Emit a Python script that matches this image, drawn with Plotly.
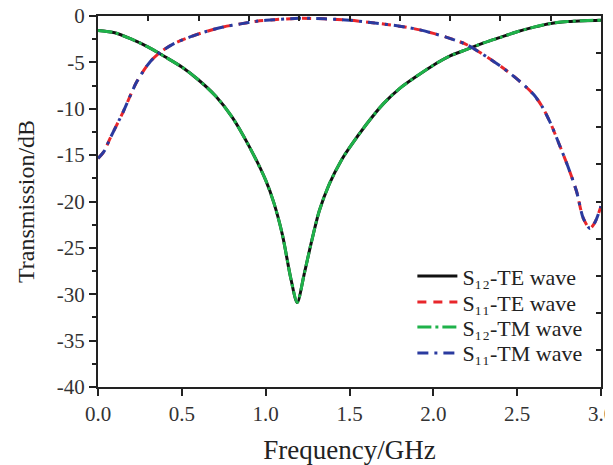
import plotly.graph_objects as go

# S12 (transmission) curve: TE and TM coincide
freq_s12 = [0.0, 0.1, 0.2, 0.3, 0.4, 0.5, 0.6, 0.7, 0.8, 0.9, 1.0, 1.05, 1.1, 1.15,
            1.188, 1.23, 1.27, 1.32, 1.38, 1.45, 1.5, 1.6, 1.7, 1.8, 1.9, 2.0, 2.1, 2.2,
            2.3, 2.4, 2.5, 2.6, 2.7, 2.8, 2.9, 3.0]
s12_db = [-1.55, -1.8, -2.5, -3.35, -4.4, -5.5, -6.9, -8.6, -10.9, -14.0, -17.7, -20.2,
          -23.6, -28.3, -30.9, -27.8, -24.6, -21.0, -18.1, -15.6, -14.2, -11.7, -9.5, -7.8,
          -6.5, -5.3, -4.3, -3.6, -2.9, -2.3, -1.7, -1.2, -0.8, -0.6, -0.5, -0.45]

# S11 (reflection) curve: TE and TM coincide
freq_s11 = [0.0, 0.036, 0.072, 0.151, 0.231, 0.31, 0.37, 0.45, 0.549, 0.65, 0.747, 0.85,
            0.946, 1.05, 1.2, 1.35, 1.5, 1.65, 1.8, 1.92, 2.08, 2.2, 2.318, 2.4, 2.5,
            2.6, 2.65, 2.7, 2.75, 2.8, 2.854, 2.894, 2.934, 2.965, 3.0]
s11_db = [-15.35, -14.6, -13.2, -10.3, -7.1, -4.95, -3.94, -3.0, -2.26, -1.65, -1.18,
          -0.85, -0.57, -0.4, -0.25, -0.3, -0.46, -0.75, -1.1, -1.5, -2.3, -3.1, -4.4,
          -5.4, -6.8, -8.5, -9.8, -11.6, -13.8, -16.1, -18.9, -21.8, -22.9, -22.2, -20.5]

series_names = ["S₁₂-TE wave", "S₁₁-TE wave", "S₁₂-TM wave", "S₁₁-TM wave"]

x_ticks = [0.0, 0.5, 1.0, 1.5, 2.0, 2.5, 3.0]
x_tick_labels = ["0.0", "0.5", "1.0", "1.5", "2.0", "2.5", "3.0"]
y_ticks = [0, -5, -10, -15, -20, -25, -30, -35, -40]
y_tick_labels = ["0", "-5", "-10", "-15", "-20", "-25", "-30", "-35", "-40"]

FONT = "Liberation Serif, Times New Roman, serif"
SPL = dict(shape="spline", smoothing=0.8)

fig = go.Figure()
fig.add_trace(go.Scatter(x=freq_s12, y=s12_db, mode="lines", name=series_names[0], legend="legend",
                         line=dict(color="#111111", width=3, **SPL)))
fig.add_trace(go.Scatter(x=freq_s11, y=s11_db, mode="lines", name=series_names[1], legend="legend2",
                         line=dict(color="#e8262b", width=3, dash="9px,7px", **SPL)))
fig.add_trace(go.Scatter(x=freq_s12, y=s12_db, mode="lines", name=series_names[2], legend="legend3",
                         line=dict(color="#1fb24a", width=3, dash="14px,4px,3px,4px", **SPL)))
fig.add_trace(go.Scatter(x=freq_s11, y=s11_db, mode="lines", name=series_names[3], legend="legend4",
                         line=dict(color="#2a3a9f", width=3, dash="11px,6px,3px,6px", **SPL)))
# helper (empty) trace to bind mirror axes
fig.add_trace(go.Scatter(x=[], y=[], xaxis="x2", yaxis="y2", showlegend=False, hoverinfo="skip"))


def leg(ytop):
    return dict(x=0.625, y=ytop, xanchor="left", yanchor="top",
                font=dict(family=FONT, size=22, color="#222222"),
                bgcolor="rgba(255,255,255,0)", itemwidth=40)


# page body has an 8px margin: figure is 605x457 placed at (8, 8)
fig.update_layout(
    width=605, height=457,
    margin=dict(l=90, r=12, t=8, b=78, autoexpand=False),
    paper_bgcolor="white", plot_bgcolor="white",
    font=dict(family=FONT, color="#222222", size=20),
    showlegend=True,
    legend=leg(0.355), legend2=leg(0.285), legend3=leg(0.218), legend4=leg(0.148),
    xaxis=dict(range=[0, 3], tickvals=x_ticks, ticktext=x_tick_labels,
               showline=True, linecolor="#222222", linewidth=2,
               ticks="outside", ticklen=7, tickwidth=2, tickcolor="#222222",
               showgrid=False, zeroline=False, automargin=False,
               ticklabeloverflow="allow",
               tickfont=dict(family=FONT, size=21, color="#333333"),
               title=dict(text="Frequency/GHz", font=dict(family=FONT, size=27, color="#222222"))),
    yaxis=dict(range=[-40, 0], tickvals=y_ticks, ticktext=y_tick_labels,
               showline=True, linecolor="#222222", linewidth=2,
               ticks="outside", ticklen=7, tickwidth=2, tickcolor="#222222",
               minor=dict(dtick=2.5, ticks="outside", ticklen=4, tickwidth=2, tickcolor="#222222"),
               showgrid=False, zeroline=False, automargin=False,
               ticklabeloverflow="allow",
               tickfont=dict(family=FONT, size=21, color="#333333"),
               title=dict(text="Transmission/dB", font=dict(family=FONT, size=24, color="#222222"))),
    xaxis2=dict(range=[0, 3], overlaying="x", side="top", dtick=0.3, tick0=0,
                showline=True, linecolor="#222222", linewidth=2, automargin=False,
                ticks="inside", ticklen=5, tickwidth=1.5, tickcolor="#222222",
                showticklabels=False, showgrid=False, zeroline=False),
    yaxis2=dict(range=[-40, 0], overlaying="y", side="right", dtick=4, tick0=0,
                showline=True, linecolor="#222222", linewidth=2, automargin=False,
                ticks="inside", ticklen=5, tickwidth=1.5, tickcolor="#222222",
                showticklabels=False, showgrid=False, zeroline=False),
)

fig.write_html("out.html")
